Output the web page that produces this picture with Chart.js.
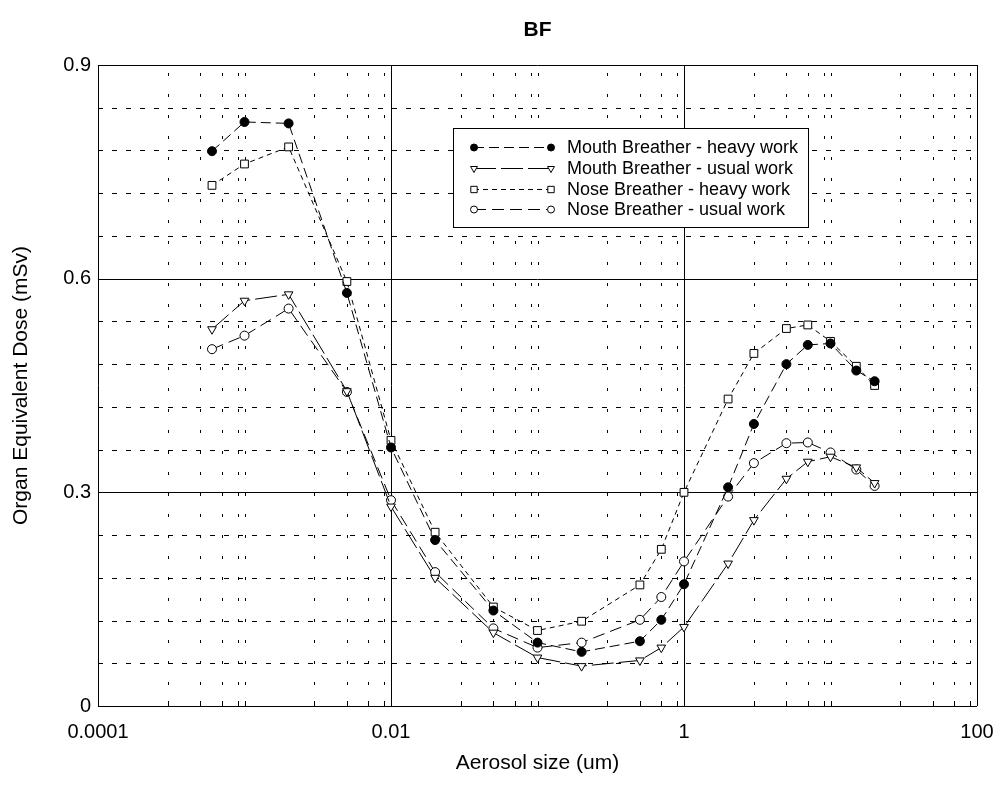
<!DOCTYPE html>
<html>
<head>
<meta charset="utf-8">
<script src="https://cdn.jsdelivr.net/npm/chart.js@4.4.1/dist/chart.umd.min.js"></script>
<style>
  html, body { margin: 0; padding: 0; background: #fff; }
</style>
</head>
<body>
<canvas id="chart" width="1002" height="804"></canvas>
<script>
// aerosol sizes (um)
const sizes = [0.0006, 0.001, 0.002, 0.005, 0.01, 0.02, 0.05, 0.1, 0.2, 0.5, 0.7, 1, 2, 3, 5, 7, 10, 15, 20];

// organ equivalent dose (mSv)
const mouthHeavy = [0.779, 0.820, 0.818, 0.580, 0.363, 0.233, 0.134, 0.089, 0.076, 0.091, 0.121, 0.171, 0.307, 0.396, 0.480, 0.507, 0.509, 0.471, 0.456];
const mouthUsual = [0.529, 0.569, 0.578, 0.442, 0.280, 0.180, 0.103, 0.068, 0.056, 0.064, 0.082, 0.111, 0.200, 0.261, 0.319, 0.343, 0.350, 0.335, 0.313];
const noseHeavy  = [0.731, 0.761, 0.785, 0.596, 0.373, 0.244, 0.139, 0.106, 0.119, 0.170, 0.220, 0.300, 0.431, 0.495, 0.530, 0.535, 0.512, 0.477, 0.450];
const noseUsual  = [0.501, 0.520, 0.558, 0.441, 0.289, 0.188, 0.109, 0.082, 0.089, 0.121, 0.153, 0.203, 0.294, 0.341, 0.369, 0.370, 0.356, 0.332, 0.309];

const seriesNames = [
  'Mouth Breather - heavy work',
  'Mouth Breather - usual work',
  'Nose Breather - heavy work',
  'Nose Breather - usual work'
];

// axes
const xTickValues = [0.0001, 0.01, 1, 100];
const xTickLabels = ['0.0001', '0.01', '1', '100'];
const xMinorTicks = [0.0003, 0.0005, 0.0007, 0.0009, 0.001, 0.003, 0.005, 0.007, 0.009,
                     0.03, 0.05, 0.07, 0.09, 0.1, 0.3, 0.5, 0.7, 0.9,
                     3, 5, 7, 9, 10, 30, 50, 70, 90];
const yTickValues = [0, 0.3, 0.6, 0.9];
const yTickLabels = ['0', '0.3', '0.6', '0.9'];
const yMinorTicks = [0.06, 0.12, 0.18, 0.24, 0.36, 0.42, 0.48, 0.54, 0.66, 0.72, 0.78, 0.84];

const FONT = "'Liberation Sans', Arial, Helvetica, sans-serif";

function pts(values) {
  return sizes.map((s, i) => ({ x: s, y: values[i] }));
}

const datasets = [
  { label: seriesNames[0], data: pts(mouthHeavy), borderDash: [10, 5],
    pointStyle: 'circle', pointRadius: 4.5, pointBackgroundColor: '#000' },
  { label: seriesNames[1], data: pts(mouthUsual), borderDash: [22, 5],
    pointStyle: 'triangle', pointRotation: 180, pointRadius: 5, pointBackgroundColor: '#fff' },
  { label: seriesNames[2], data: pts(noseHeavy), borderDash: [5, 4],
    pointStyle: 'rect', pointRadius: 5.5, pointBackgroundColor: '#fff' },
  { label: seriesNames[3], data: pts(noseUsual), borderDash: [12, 6],
    pointStyle: 'circle', pointRadius: 4.5, pointBackgroundColor: '#fff' }
];
datasets.forEach(d => {
  d.borderColor = '#000';
  d.borderWidth = 1;
  d.pointBorderColor = '#000';
  d.pointBorderWidth = 1;
  d.fill = false;
  d.tension = 0;
});

// grid, frame and minor ticks
const gridPlugin = {
  id: 'bfGrid',
  beforeDatasetsDraw(chart) {
    const { ctx, chartArea: a, scales: { x, y } } = chart;
    const px = v => Math.round(x.getPixelForValue(v)) + 0.5;
    const py = v => Math.round(y.getPixelForValue(v)) + 0.5;
    ctx.save();
    ctx.strokeStyle = '#000';
    ctx.lineWidth = 1;

    ctx.setLineDash([5, 9]);
    yMinorTicks.forEach(v => {
      ctx.beginPath(); ctx.moveTo(a.left, py(v)); ctx.lineTo(a.right, py(v)); ctx.stroke();
    });
    ctx.setLineDash([3, 18]);
    xMinorTicks.forEach(v => {
      ctx.beginPath(); ctx.moveTo(px(v), a.bottom); ctx.lineTo(px(v), a.top); ctx.stroke();
    });

    ctx.setLineDash([]);
    yTickValues.forEach(v => {
      ctx.beginPath(); ctx.moveTo(a.left, py(v)); ctx.lineTo(a.right, py(v)); ctx.stroke();
    });
    xTickValues.forEach(v => {
      ctx.beginPath(); ctx.moveTo(px(v), a.top); ctx.lineTo(px(v), a.bottom); ctx.stroke();
    });
    // small inward ticks on bottom edge
    xMinorTicks.forEach(v => {
      ctx.beginPath(); ctx.moveTo(px(v), a.bottom); ctx.lineTo(px(v), a.bottom - 5); ctx.stroke();
    });
    ctx.restore();
  }
};

// titles and legend box
const decorPlugin = {
  id: 'bfDecor',
  afterDraw(chart) {
    const { ctx, chartArea: a } = chart;
    const cx = (a.left + a.right) / 2;
    ctx.save();
    ctx.fillStyle = '#000';
    ctx.textAlign = 'center';
    ctx.textBaseline = 'middle';

    ctx.font = 'bold 21px ' + FONT;
    ctx.fillText('BF', cx, 30);

    ctx.font = '21px ' + FONT;
    ctx.fillText('Aerosol size (um)', cx, 763);

    ctx.save();
    ctx.translate(21, (a.top + a.bottom) / 2);
    ctx.rotate(-Math.PI / 2);
    ctx.fillText('Organ Equivalent Dose (mSv)', 0, 0);
    ctx.restore();

    // legend
    const box = { l: 453, t: 128, r: 808, b: 227 };
    ctx.fillStyle = '#fff';
    ctx.fillRect(box.l, box.t, box.r - box.l, box.b - box.t);
    ctx.strokeStyle = '#000';
    ctx.lineWidth = 1;
    ctx.strokeRect(box.l + 0.5, box.t + 0.5, box.r - box.l, box.b - box.t);

    const rowY = [147.5, 168.5, 189.5, 209.5];
    const x0 = 474, x1 = 551;
    chart.data.datasets.forEach((d, i) => {
      const yy = rowY[i];
      ctx.setLineDash(d.borderDash);
      ctx.beginPath(); ctx.moveTo(x0, yy); ctx.lineTo(x1, yy); ctx.stroke();
      ctx.setLineDash([]);
      const style = {
        pointStyle: d.pointStyle, radius: d.pointRadius - 1, rotation: d.pointRotation || 0,
        borderWidth: 1
      };
      [x0, x1].forEach(xx => {
        ctx.fillStyle = d.pointBackgroundColor;
        ctx.strokeStyle = '#000';
        Chart.helpers.drawPoint(ctx, style, xx, yy);
      });
      ctx.fillStyle = '#000';
      ctx.font = '18px ' + FONT;
      ctx.textAlign = 'left';
      ctx.fillText(d.label, 567, yy + 1);
    });
    ctx.restore();
  }
};

new Chart(document.getElementById('chart'), {
  type: 'line',
  data: { datasets },
  plugins: [gridPlugin, decorPlugin],
  options: {
    responsive: false,
    animation: false,
    devicePixelRatio: 1,
    layout: { padding: { top: 65, right: 25, left: 0, bottom: 0 } },
    plugins: { legend: { display: false }, tooltip: { enabled: false }, title: { display: false } },
    scales: {
      x: {
        type: 'logarithmic',
        min: 0.0001,
        max: 100,
        afterBuildTicks: s => { s.ticks = xTickValues.map(v => ({ value: v })); },
        afterFit: s => { s.height = 98; s.paddingLeft = 0; s.paddingRight = 0; },
        grid: { display: false, drawTicks: false },
        border: { display: false },
        ticks: {
          autoSkip: false, maxRotation: 0, padding: 14, color: '#000',
          font: { family: FONT, size: 20 },
          callback: (v, i) => xTickLabels[i]
        }
      },
      y: {
        type: 'linear',
        min: 0,
        max: 0.9,
        afterBuildTicks: s => { s.ticks = yTickValues.map(v => ({ value: v })); },
        afterFit: s => { s.width = 98; s.paddingTop = 0; s.paddingBottom = 0; },
        grid: { display: false, drawTicks: false },
        border: { display: false },
        ticks: {
          padding: 7, color: '#000',
          font: { family: FONT, size: 20 },
          callback: (v, i) => yTickLabels[i]
        }
      }
    }
  }
});
</script>
</body>
</html>
